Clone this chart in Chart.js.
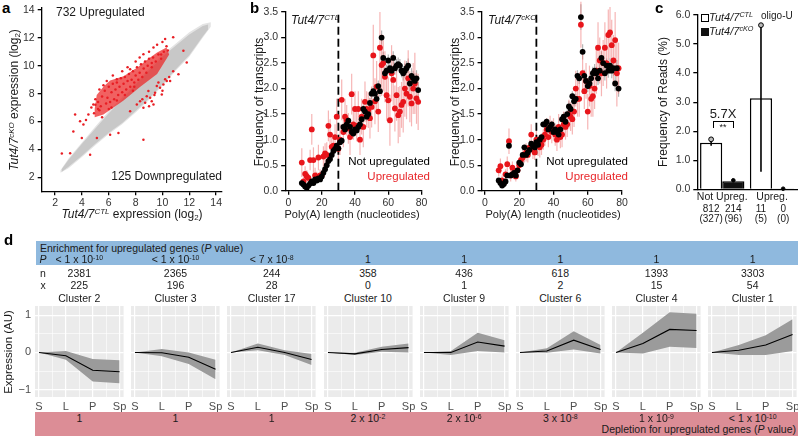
<!DOCTYPE html>
<html>
<head>
<meta charset="utf-8">
<title>Tut4/7 figure</title>
<script src="https://cdn.jsdelivr.net/npm/chart.js@4.4.1/dist/chart.umd.min.js"></script>
<style>
  html, body { margin: 0; padding: 0; }
  body { width: 798px; height: 436px; position: relative; overflow: hidden; background: #fff;
         font-family: 'Liberation Sans', Arial, Helvetica, sans-serif; color: #1a1a1a; }
  canvas { position: absolute; }
  .t { position: absolute; white-space: nowrap; line-height: 1; }
  .rot { transform: translate(-50%, -50%) rotate(-90deg); }
  .ctr { transform: translateX(-50%); }
  .lab { font-weight: bold; font-size: 15px; color: #000; }
  .sup { font-size: 66%; position: relative; top: -0.5em; }
  .sub { font-size: 66%; position: relative; top: 0.3em; }
  .band { position: absolute; }
</style>
</head>
<body>

<!-- panel a -->
<div class="t lab" style="left:2px;top:0px">a</div>
<canvas id="chartA" width="228" height="212" style="left:0;top:0"></canvas>
<div class="t" style="left:56px;top:6px;font-size:12px">732 Upregulated</div>
<div class="t" style="right:576px;top:170px;font-size:12px">125 Downpregulated</div>
<div class="t rot" style="left:14px;top:100px;font-size:12px"><i>Tut4/7</i><span class="sup"><i>cKO</i></span> expression (log<span class="sub">2</span>)</div>
<div class="t ctr" style="left:132px;top:208px;font-size:12px"><i>Tut4/7</i><span class="sup"><i>CTL</i></span> expression (log<span class="sub">2</span>)</div>

<!-- panel b -->
<div class="t lab" style="left:250px;top:0px">b</div>
<canvas id="chartB1" width="192" height="212" style="left:240px;top:0"></canvas>
<canvas id="chartB2" width="192" height="212" style="left:440px;top:0"></canvas>
<div class="t rot" style="left:259px;top:102px;font-size:12px">Frequency of transcripts</div>
<div class="t rot" style="left:455px;top:102px;font-size:12px">Frequency of transcripts</div>
<div class="t" style="left:291px;top:14px;font-size:12px"><i>Tut4/7</i><span class="sup"><i>CTL</i></span></div>
<div class="t" style="left:488px;top:14px;font-size:12px"><i>Tut4/7</i><span class="sup"><i>cKO</i></span></div>
<div class="t" style="right:368px;top:156px;font-size:11.5px;color:#000">Not upregulated</div>
<div class="t" style="right:368px;top:171px;font-size:11.5px;color:#e8272b">Upregulated</div>
<div class="t" style="right:170px;top:156px;font-size:11.5px;color:#000">Not upregulated</div>
<div class="t" style="right:170px;top:171px;font-size:11.5px;color:#e8272b">Upregulated</div>
<div class="t ctr" style="left:352px;top:209px;font-size:11px">Poly(A) length (nucleotides)</div>
<div class="t ctr" style="left:553px;top:209px;font-size:11px">Poly(A) length (nucleotides)</div>

<!-- panel c -->
<div class="t lab" style="left:655px;top:0px">c</div>
<canvas id="chartC" width="158" height="232" style="left:640px;top:0"></canvas>
<div class="t rot" style="left:663px;top:102px;font-size:12px">Frequency of Reads (%)</div>
<div class="band" style="left:701px;top:14px;width:6px;height:6px;border:1px solid #000;background:#fff"></div>
<div class="t" style="left:709px;top:12px;font-size:11px"><i>Tut4/7</i><span class="sup"><i>CTL</i></span></div>
<div class="band" style="left:701px;top:28px;width:8px;height:8px;background:#111"></div>
<div class="t" style="left:709px;top:26px;font-size:11px"><i>Tut4/7</i><span class="sup"><i>cKO</i></span></div>
<div class="t" style="left:761px;top:11px;font-size:10px">oligo-U</div>
<div class="t ctr" style="left:723px;top:107px;font-size:13px">5.7X</div>
<div class="band" style="left:713px;top:121px;width:19px;height:6px;border:1px solid #000;border-bottom:none"></div>
<div class="t ctr" style="left:723px;top:123px;font-size:9px">**</div>

<!-- panel d -->
<div class="t lab" style="left:4px;top:232px">d</div>
<div class="band" style="left:36px;top:241px;width:762px;height:24px;background:#8fb9de"></div>
<div class="t" style="left:40px;top:243px;font-size:10.5px">Enrichment for upregulated genes (<i>P</i> value)</div>
<div class="band" style="left:35px;top:412px;width:763px;height:24px;background:#dc8d96"></div>
<div class="t" style="right:2px;top:424px;font-size:10.5px">Depletion for upregulated genes (<i>P</i> value)</div>
<div class="t rot" style="left:9px;top:352px;font-size:11.5px">Expression (AU)</div>
<div id="dText"></div>
<div id="dCharts"></div>

<script>
// ---------- panel a : expression scatter ----------
const A_TICKS = [2, 4, 6, 8, 10, 12, 14];
// outline of the grey cloud of all genes (upper edge, then lower edge back)
const GREY_OUTER = [[2.4,2.5],[3,3.35],[4,4.5],[5,5.65],[6,6.75],[7,7.75],[8,8.8],[9,9.8],[10,10.8],[11,11.6],[12,12.4],[13,13.0],[13.6,13.12],
                    [13.6,12.8],[13,12.0],[12,10.65],[11,9.65],[10,8.55],[9,7.55],[8,6.65],[7,5.8],[6,5.1],[5,4.3],[4,3.45],[3,2.65],[2.4,2.32],[2.4,2.5]];
const GREY_INNER = [[2.5,2.6],[3,3.25],[4,4.4],[5,5.5],[6,6.6],[7,7.6],[8,8.65],[9,9.65],[10,10.65],[11,11.45],[12,12.25],[13,12.85],[13.4,12.95],
                    [13.4,12.6],[13,12.1],[12,10.75],[11,9.75],[10,8.65],[9,7.65],[8,6.75],[7,5.9],[6,5.2],[5,4.4],[4,3.55],[3,2.75],[2.5,2.4],[2.5,2.6]];
// dense core of upregulated genes
const RED_CORE = [[4.95,6.9],[5.1,7.9],[5.6,8.5],[6.1,8.95],[7.1,9.25],[8.1,9.85],[8.8,10.4],[9.6,10.95],[10.3,11.3],[10.5,10.8],
                  [9.6,9.4],[8.3,8.45],[7.1,7.5],[5.6,6.5],[4.95,6.3],[4.95,6.9]];
const RED_UP = [[2.5,3.7],[3.12,3.73],[3.99,4.82],[3.36,5.29],[4.11,5.78],[4.48,6.5],[3.86,6.01],[3.49,6.5],[4.85,7.22],[5.85,8.9],
                [6.6,9.03],[7.59,9.75],[8.58,10.83],[9.33,11.31],[10.2,11.91],[10.8,12.04],[11.56,11.07],[11.81,10.23],[10.57,8.9],[11.19,9.39],
                [8.58,4.69],[6.72,5.18],[6.1,5.05],[5.11,4.82],[4.61,3.61],[5.3,8.3],[5.6,8.6],[5.0,7.6],[4.7,7.0],[5.2,6.9],
                [4.9,6.6],[6.3,9.3],[7.0,9.6],[7.4,9.9],[8.0,10.3],[8.3,10.6],[9.0,11.0],[9.6,11.5],[10.0,11.7],[10.4,11.1],
                [9.9,10.8],[9.2,10.2],[4.3,6.1],[5.5,6.3],[6.2,7.0],[7.8,8.2],
                [5.2,7.4],[5.4,7.1],[5.5,7.8],[5.7,8.2],[5.8,7.3],[5.9,7.7],[6.0,8.5],[6.1,7.4],[6.2,8.1],[6.3,8.7],
                [6.4,7.6],[6.5,8.3],[6.6,8.8],[6.7,7.9],[6.8,8.5],[6.9,9.1],[7.0,8.1],[7.1,8.7],[7.2,9.2],[7.3,8.3],
                [7.4,8.9],[7.5,9.4],[7.6,8.5],[7.7,9.0],[7.8,9.6],[7.9,8.8],[8.0,9.3],[8.1,9.9],[8.2,9.0],[8.3,9.5],
                [8.4,10.1],[8.5,9.2],[8.6,9.8],[8.7,10.3],[8.8,9.5],[8.9,10.0],[9.0,10.5],[9.2,9.9],[9.3,10.6],[9.5,10.3],
                [9.7,10.8],[9.9,10.5],[10.1,11.0],[10.3,11.4],[5.0,7.2],[5.3,6.8],[6.0,6.9],[6.6,7.5],[7.2,7.9],[7.9,8.5]];
const RED_DOWN = [[8.71,7.34],[9.08,7.7],[9.45,8.07],[9.82,8.43],[10.07,8.66],[10.32,8.9],[8.83,7.82],[9.2,7.46],[9.58,8.54],[9.95,7.94],
                  [8.33,7.46],[8.09,7.22],[9.7,8.79],[10.2,9.03],[9.33,7.22],[8.58,6.98],[8.95,8.18],[7.59,6.74],[10.5,9.2],[10.8,9.6],
                  [9.0,7.1],[8.5,7.6],[10.0,8.2],[9.4,7.9]];

// ---------- panel b : poly(A) length profiles ----------
const POLYA_LEN = [8,9,10,11,12,13,14,15,16,17,18,19,20,21,22,23,24,25,26,27,28,29,30,
                   31,32,33,34,35,36,37,38,39,40,41,42,43,44,45,46,47,48,49,50,
                   51,52,53,54,55,56,57,58,59,60,61,62,63,64,65,66,67,68,69,70,
                   71,72,73,74,75,76,77,78];
const B_XTICKS = [0, 20, 40, 60, 80];
const B_YTICKS = [0, 0.5, 1, 1.5, 2, 2.5, 3, 3.5];
const B_YLABELS = ['0.0', '0.5', '1.0', '1.5', '2.0', '2.5', '3.0', '3.5'];
const CTL_NOT = [.15,.12,.08,.06,.10,.14,.18,.15,.22,.20,.24,.22,.28,.35,.42,.50,.58,.62,.70,.78,.82,.88,.83,
                 .95,.98,1.25,1.20,1.30,1.37,1.25,1.15,1.12,1.20,1.18,1.25,1.30,1.40,1.60,1.55,1.45,1.50,1.72,1.90,
                 1.95,1.90,1.80,2.05,1.95,3.00,2.60,2.30,2.35,2.55,2.40,2.35,2.60,2.40,2.45,2.48,2.45,2.35,2.30,2.35,
                 2.40,2.45,2.10,2.25,2.20,2.15,2.20,1.97];
const CTL_NOT_ERR = [.03,.03,.02,.02,.03,.03,.04,.03,.03,.03,.04,.03,.04,.04,.04,.05,.05,.05,.05,.06,.06,.06,.06,
                     .06,.06,.07,.07,.07,.07,.07,.07,.07,.08,.08,.08,.08,.08,.09,.09,.09,.09,.10,.10,
                     .10,.10,.10,.11,.11,.14,.12,.12,.12,.12,.12,.12,.13,.13,.13,.13,.13,.13,.14,.14,
                     .14,.14,.15,.15,.15,.15,.16,.16];
const CTL_UP = [.55,.18,.33,.28,.25,.60,1.20,.60,.30,.27,.65,.30,.30,.67,.73,.70,1.27,1.10,.86,.88,1.05,1.45,.82,
                1.00,1.78,1.15,1.45,1.38,1.22,1.05,1.89,1.30,1.60,1.27,1.60,1.00,1.45,1.25,1.74,1.60,1.58,1.42,1.64,
                2.65,1.75,2.04,1.55,2.80,2.46,2.50,2.23,1.87,1.77,1.38,2.30,2.17,1.61,1.87,1.48,1.55,1.68,1.74,2.00,
                1.90,2.20,1.84,1.71,2.00,2.10,1.81,1.74];
const CTL_UP_ERR = [.28,.10,.15,.12,.10,.20,.30,.25,.15,.10,.25,.12,.10,.20,.20,.25,.30,.30,.20,.20,.25,.35,.20,
                    .30,.40,.30,.35,.30,.30,.35,.40,.30,.35,.30,.35,.30,.35,.40,.40,.35,.35,.40,.40,
                    .60,.45,.50,.40,.70,.60,.55,.50,.50,.45,.50,.55,.50,.45,.50,.55,.50,.45,.60,.55,
                    .50,.55,.50,.45,.50,.60,.50,.55];
const CKO_NOT = [.20,.15,.10,.13,.18,.30,.88,.30,.32,.35,.30,.40,.55,.52,.70,.85,.70,.75,.80,.92,.88,.85,.95,
                 .90,1.00,1.05,1.30,1.30,1.35,1.20,1.25,1.30,1.15,1.20,1.15,1.10,1.20,1.40,1.45,1.35,1.50,1.65,1.60,
                 1.85,1.75,1.80,2.25,2.20,3.40,2.72,2.25,2.15,2.05,2.10,2.20,2.30,2.35,2.30,2.20,2.35,2.60,2.50,2.30,
                 2.45,2.35,2.45,2.35,2.40,2.10,2.40,2.00];
const CKO_NOT_ERR = [.03,.03,.02,.02,.03,.03,.06,.03,.03,.03,.04,.03,.04,.04,.04,.05,.05,.05,.05,.06,.06,.06,.06,
                     .06,.06,.07,.07,.07,.07,.07,.07,.07,.08,.08,.08,.08,.08,.09,.09,.09,.09,.10,.10,
                     .10,.10,.10,.11,.11,.25,.15,.12,.12,.12,.12,.12,.13,.13,.13,.13,.13,.13,.14,.14,
                     .14,.14,.15,.15,.15,.15,.16,.16];
const CKO_UP = [.40,.48,.20,.15,.32,.52,.97,.30,.45,.35,.28,.40,.50,.60,.65,.70,.75,.70,.85,1.10,.80,.75,1.00,
                .88,.85,.90,1.00,1.10,1.20,1.05,1.25,1.15,1.20,1.10,1.00,1.25,1.05,1.10,1.30,1.25,1.30,1.50,1.45,
                1.40,1.55,2.00,1.80,1.80,3.25,2.30,1.95,2.15,1.55,2.05,1.80,1.85,2.00,2.35,2.80,2.55,2.30,2.50,2.80,
                2.50,3.05,3.10,2.85,2.55,2.95,2.30,2.40];
const CKO_UP_ERR = [.12,.15,.10,.08,.10,.15,.25,.12,.12,.12,.10,.12,.15,.15,.15,.15,.18,.15,.15,.20,.18,.15,.20,
                    .20,.20,.20,.20,.22,.22,.20,.22,.22,.22,.22,.22,.25,.22,.25,.25,.25,.25,.28,.28,
                    .30,.30,.35,.35,.35,.45,.40,.35,.35,.35,.40,.35,.40,.40,.45,.50,.45,.45,.45,.50,
                    .50,.50,.50,.50,.50,.55,.65,.50];

// ---------- panel c : oligo-U reads ----------
const C_GROUPS = ['Not Upreg.', 'Upreg.'];
const C_YTICKS = [0, 1, 2, 3, 4, 5, 6];
const C_YLABELS = ['0.0', '1.0', '2.0', '3.0', '4.0', '5.0', '6.0'];
const C_CTL = [1.6, 3.13];
const C_CKO = [0.28, 0.01];
const C_CTL_LO = [1.5, 0.6];
const C_CTL_HI = [1.72, 5.65];
const C_CKO_LO = [0.25, 0];
const C_CKO_HI = [0.31, 0.02];
const C_CTL_COUNT = ['812', '11'];
const C_CKO_COUNT = ['214', '0'];
const C_CTL_GENES = ['(327)', '(5)'];
const C_CKO_GENES = ['(96)', '(0)'];

// ---------- panel d : clusters ----------
const CLUSTER_NAMES = ['Cluster 2','Cluster 3','Cluster 17','Cluster 10','Cluster 9','Cluster 6','Cluster 4','Cluster 1'];
const CLUSTER_N = [2381, 2365, 244, 358, 436, 618, 1393, 3303];
const CLUSTER_X = [225, 196, 28, 0, 1, 2, 15, 54];
const ENRICH_P = [['< 1 x 10','-10'],['< 1 x 10','-10'],['< 7 x 10','-8'],['1',''],['1',''],['1',''],['1',''],['1','']];
const DEPLETE_P = [['1',''],['1',''],['1',''],['2 x 10','-2'],['2 x 10','-6'],['3 x 10','-8'],['1 x 10','-9'],['< 1 x 10','-10']];
const STAGES = ['S', 'L', 'P', 'Sp'];
const STAGE_POS = [1, 2, 3, 4];
const GRID_X = [1, 1.5, 2, 2.5, 3, 3.5, 4];
const GRID_Y = [-1, -0.5, 0, 0.5, 1];
const CL_MEAN = [[0,-0.09,-0.48,-0.52],[0,-0.01,-0.13,-0.45],[0,0.14,0,-0.19],[0,-0.04,0.08,0.13],
                 [0,0,0.28,0.17],[0,0.04,0.33,0.08],[0,0.24,0.62,0.59],[0,0.06,0.2,0.48]];
const CL_UPPER = [[0,0.04,-0.18,-0.21],[0,0.09,0,-0.2],[0,0.24,0.06,-0.04],[0,-0.01,0.15,0.24],
                  [0,0.04,0.53,0.33],[0,0.11,0.57,0.2],[0,0.53,1.08,1.04],[0,0.2,0.46,0.89]];
const CL_LOWER = [[0,-0.2,-0.78,-0.83],[0,-0.1,-0.31,-0.72],[0,0.06,-0.07,-0.34],[0,-0.07,0.02,0],
                  [0,-0.07,0.04,0],[0,-0.01,0.08,-0.03],[0,-0.03,0.15,0.12],[0,-0.07,-0.07,0.04]];

// ---------- common setup ----------
Chart.defaults.font.family = "'Liberation Sans', Arial, Helvetica, sans-serif";
Chart.defaults.color = '#333';
Chart.defaults.animation = false;
Chart.defaults.plugins.legend.display = false;
Chart.defaults.plugins.tooltip.enabled = false;

const toXY = pairs => pairs.map(p => ({x: p[0], y: p[1]}));
function fixWidth(w) {
  return s => { s.width = w; s.paddingLeft = s.paddingRight = s.paddingTop = s.paddingBottom = 0; };
}
function fixHeight(h) {
  return s => { s.height = h; s.paddingLeft = s.paddingRight = s.paddingTop = s.paddingBottom = 0; };
}
function setTicks(list) {
  return s => { s.ticks = list.map(v => ({value: v})); };
}
function labelFrom(values, labels) {
  return v => { const k = values.indexOf(v); return k >= 0 ? labels[k] : ''; };
}
// black axis line with short outward ticks; a fresh object for every axis
function blackAxis(extra) {
  return Object.assign({
    border: {display: true, color: '#000', width: 1.3},
    grid: {display: true, drawOnChartArea: false, drawTicks: true, tickLength: 4, color: '#000', lineWidth: 1.3}
  }, extra);
}

// ---------- panel a ----------
new Chart(document.getElementById('chartA'), {
  type: 'scatter',
  data: {
    datasets: [
      {data: toXY(GREY_OUTER), showLine: true, fill: 'shape', backgroundColor: '#e4e4e4', borderWidth: 0, pointRadius: 0, order: 5},
      {data: toXY(GREY_INNER), showLine: true, fill: 'shape', backgroundColor: '#c8c8c8', borderWidth: 0, pointRadius: 0, order: 4},
      {data: toXY(RED_CORE), showLine: true, fill: 'shape', backgroundColor: 'rgba(236,36,36,0.72)', borderWidth: 0, pointRadius: 0, order: 3},
      {data: toXY(RED_UP), pointRadius: 1.25, pointBackgroundColor: '#e81e24', pointBorderWidth: 0, order: 1},
      {data: toXY(RED_DOWN), pointRadius: 1.25, pointBackgroundColor: '#e81e24', pointBorderWidth: 0, order: 2}
    ]
  },
  options: {
    responsive: false,
    layout: {padding: {top: 7.2, right: 6.5, left: 0, bottom: 0}},
    scales: {
      x: blackAxis({type: 'linear', min: 1, max: 14.4, afterBuildTicks: setTicks(A_TICKS), afterFit: fixHeight(20.8),
            ticks: {font: {size: 10.5}, padding: 2, maxRotation: 0}}),
      y: blackAxis({type: 'linear', min: 1, max: 14.2, afterBuildTicks: setTicks(A_TICKS), afterFit: fixWidth(41.7),
            ticks: {font: {size: 10.5}, padding: 3}})
    }
  }
});

// ---------- panel b ----------
const errorBars = {
  id: 'errorBars',
  beforeDatasetsDraw(chart) {
    const ctx = chart.ctx, xs = chart.scales.x, ys = chart.scales.y;
    chart.data.datasets.forEach(ds => {
      if (!ds.err) return;
      ctx.save();
      ctx.strokeStyle = ds.errColor;
      ctx.lineWidth = 1.2;
      ds.data.forEach((p, i) => {
        const x = xs.getPixelForValue(p.x);
        ctx.beginPath();
        ctx.moveTo(x, ys.getPixelForValue(p.y - ds.err[i]));
        ctx.lineTo(x, ys.getPixelForValue(p.y + ds.err[i]));
        ctx.stroke();
      });
      ctx.restore();
    });
  }
};

function polyAChart(id, notUp, notErr, up, upErr, x0, x80) {
  const pxPerUnit = (x80 - x0) / 80;
  const left = x0 - 2 * pxPerUnit;
  const pts = vals => vals.map((v, i) => ({x: POLYA_LEN[i], y: v}));
  return new Chart(document.getElementById(id), {
    type: 'scatter',
    data: {
      datasets: [
        {data: pts(notUp), err: notErr, errColor: 'rgba(120,120,120,0.55)', pointRadius: 2.9,
         pointBackgroundColor: '#000', pointBorderWidth: 0, order: 0, clip: false},
        {data: pts(up), err: upErr, errColor: 'rgba(238,120,120,0.55)', pointRadius: 2.9,
         pointBackgroundColor: '#e8151b', pointBorderWidth: 0, order: 1, clip: false},
        {data: [{x: 30, y: 0}, {x: 30, y: 3.5}], showLine: true, borderColor: '#000', borderWidth: 1.8,
         borderDash: [8, 4], pointRadius: 0, order: 2}
      ]
    },
    options: {
      responsive: false,
      layout: {padding: {top: 12, right: 192 - x80, left: 0, bottom: 0}},
      scales: {
        x: blackAxis({type: 'linear', min: -2, max: 80, afterBuildTicks: setTicks(B_XTICKS), afterFit: fixHeight(21.3),
              ticks: {font: {size: 10.5}, padding: 2, maxRotation: 0}}),
        y: blackAxis({type: 'linear', min: 0, max: 3.5, afterBuildTicks: setTicks(B_YTICKS), afterFit: fixWidth(left),
              ticks: {font: {size: 10.5}, padding: 3, autoSkip: false, callback: labelFrom(B_YTICKS, B_YLABELS)}})
      }
    },
    plugins: [errorBars]
  });
}
polyAChart('chartB1', CTL_NOT, CTL_NOT_ERR, CTL_UP, CTL_UP_ERR, 48.5, 181.5);
polyAChart('chartB2', CKO_NOT, CKO_NOT_ERR, CKO_UP, CKO_UP_ERR, 45, 182);

// ---------- panel c ----------
const barExtras = {
  id: 'barExtras',
  afterDatasetsDraw(chart) {
    const ctx = chart.ctx, ys = chart.scales.y;
    const sets = [[0, C_CTL_LO, C_CTL_HI, C_CTL_COUNT, C_CTL_GENES, true],
                  [1, C_CKO_LO, C_CKO_HI, C_CKO_COUNT, C_CKO_GENES, false]];
    ctx.save();
    sets.forEach(([di, lo, hi, counts, genes, open]) => {
      chart.getDatasetMeta(di).data.forEach((bar, i) => {
        ctx.strokeStyle = '#000';
        ctx.lineWidth = 1.6;
        ctx.beginPath();
        ctx.moveTo(bar.x, ys.getPixelForValue(lo[i]));
        ctx.lineTo(bar.x, ys.getPixelForValue(hi[i]));
        ctx.stroke();
        ctx.beginPath();
        ctx.arc(bar.x, ys.getPixelForValue(hi[i]), open ? 2.4 : 1.8, 0, Math.PI * 2);
        ctx.fillStyle = open ? '#bbb' : '#000';
        ctx.fill();
        ctx.lineWidth = 1;
        ctx.stroke();
        ctx.fillStyle = '#1a1a1a';
        ctx.font = "10px 'Liberation Sans', Arial, sans-serif";
        ctx.textAlign = 'center';
        ctx.textBaseline = 'middle';
        ctx.fillText(counts[i], bar.x, ys.bottom + 19.5);
        ctx.fillText(genes[i], bar.x, ys.bottom + 30);
      });
    });
    ctx.restore();
  }
};
new Chart(document.getElementById('chartC'), {
  type: 'bar',
  data: {
    labels: C_GROUPS,
    datasets: [
      {data: C_CTL, backgroundColor: '#fff', borderColor: '#000', borderWidth: 1.5},
      {data: C_CKO, backgroundColor: '#111', borderColor: '#000', borderWidth: 1.5}
    ]
  },
  options: {
    responsive: false,
    layout: {padding: {top: 15, right: 1, left: 0, bottom: 0}},
    datasets: {bar: {categoryPercentage: 0.89, barPercentage: 1}},
    scales: {
      x: {afterFit: fixHeight(42.7), border: {display: true, color: '#000', width: 1.3},
          grid: {display: false, drawTicks: false},
          ticks: {font: {size: 10.5}, color: '#1a1a1a', padding: 2, maxRotation: 0, autoSkip: false}},
      y: blackAxis({min: 0, max: 6, afterBuildTicks: setTicks(C_YTICKS), afterFit: fixWidth(57.3),
            ticks: {font: {size: 10.5}, padding: 3, autoSkip: false, callback: labelFrom(C_YTICKS, C_YLABELS)}})
    }
  },
  plugins: [barExtras]
});

// ---------- panel d ----------
const PANEL_LEFT0 = 35, PANEL_STEP = 96.2, PANEL_W = 88.6, PANEL_PAD_R = 8;
const panelBg = {
  id: 'panelBg',
  beforeDraw(chart) {
    const {ctx, chartArea: a} = chart;
    ctx.save();
    ctx.fillStyle = '#ebebeb';
    ctx.fillRect(a.left, a.top, a.width, a.height);
    ctx.restore();
  }
};
function fmtP(p) {
  return p[1] ? p[0] + '<span class="sup">' + p[1] + '</span>' : p[0];
}
const dText = document.getElementById('dText');
function addText(html, cx, top) {
  const el = document.createElement('div');
  el.className = 't ctr';
  el.style.left = cx + 'px';
  el.style.top = top + 'px';
  el.style.fontSize = '10.5px';
  el.innerHTML = html;
  dText.appendChild(el);
}
addText('<i>P</i>', 43, 254);
addText('n', 43, 268);
addText('x', 43, 280);
const dCharts = document.getElementById('dCharts');
CLUSTER_NAMES.forEach((name, i) => {
  const left = PANEL_LEFT0 + i * PANEL_STEP;
  const cx = left + PANEL_W / 2;
  addText(fmtP(ENRICH_P[i]), cx, 254);
  addText(String(CLUSTER_N[i]), cx, 268);
  addText(String(CLUSTER_X[i]), cx, 280);
  addText(name, cx, 293);
  addText(fmtP(DEPLETE_P[i]), cx, 413);

  const yw = i === 0 ? 25 : 0;
  const cv = document.createElement('canvas');
  cv.width = Math.round(PANEL_W + yw + PANEL_PAD_R);
  cv.height = 112;
  cv.style.left = (left - yw) + 'px';
  cv.style.top = '300px';
  dCharts.appendChild(cv);
  const pts = vals => vals.map((v, k) => ({x: STAGE_POS[k], y: v}));
  new Chart(cv, {
    type: 'line',
    data: {
      datasets: [
        {data: pts(CL_UPPER[i]), fill: '+1', backgroundColor: '#9b9b9b', borderWidth: 0, pointRadius: 0, order: 1},
        {data: pts(CL_LOWER[i]), fill: false, borderWidth: 0, pointRadius: 0, order: 2},
        {data: pts(CL_MEAN[i]), fill: false, borderColor: '#000', borderWidth: 1.1, pointRadius: 0, order: 0}
      ]
    },
    options: {
      responsive: false,
      layout: {padding: {top: 6, right: cv.width - yw - PANEL_W, left: 0, bottom: 0}},
      scales: {
        x: {type: 'linear', min: 0.85, max: 4.15, afterBuildTicks: setTicks(GRID_X), afterFit: fixHeight(15),
            border: {display: false},
            grid: {color: '#fff', drawTicks: false, lineWidth: c => Number.isInteger(c.tick.value) ? 1.2 : 0.6},
            ticks: {autoSkip: false, maxRotation: 0, padding: 3, color: '#4d4d4d', font: {size: 11},
                    callback: labelFrom(STAGE_POS, STAGES)}},
        y: {type: 'linear', min: -1.2, max: 1.25, afterBuildTicks: setTicks(GRID_Y), display: true,
            afterFit: fixWidth(yw), border: {display: false},
            grid: {color: '#fff', drawTicks: false, lineWidth: c => Number.isInteger(c.tick.value) ? 1.2 : 0.6},
            ticks: {display: i === 0, autoSkip: false, padding: 4, color: '#4d4d4d', font: {size: 11},
                    callback: labelFrom([-1, 0, 1], ['\u22121', '0', '1'])}}
      }
    },
    plugins: [panelBg]
  });
});
</script>
</body>
</html>
